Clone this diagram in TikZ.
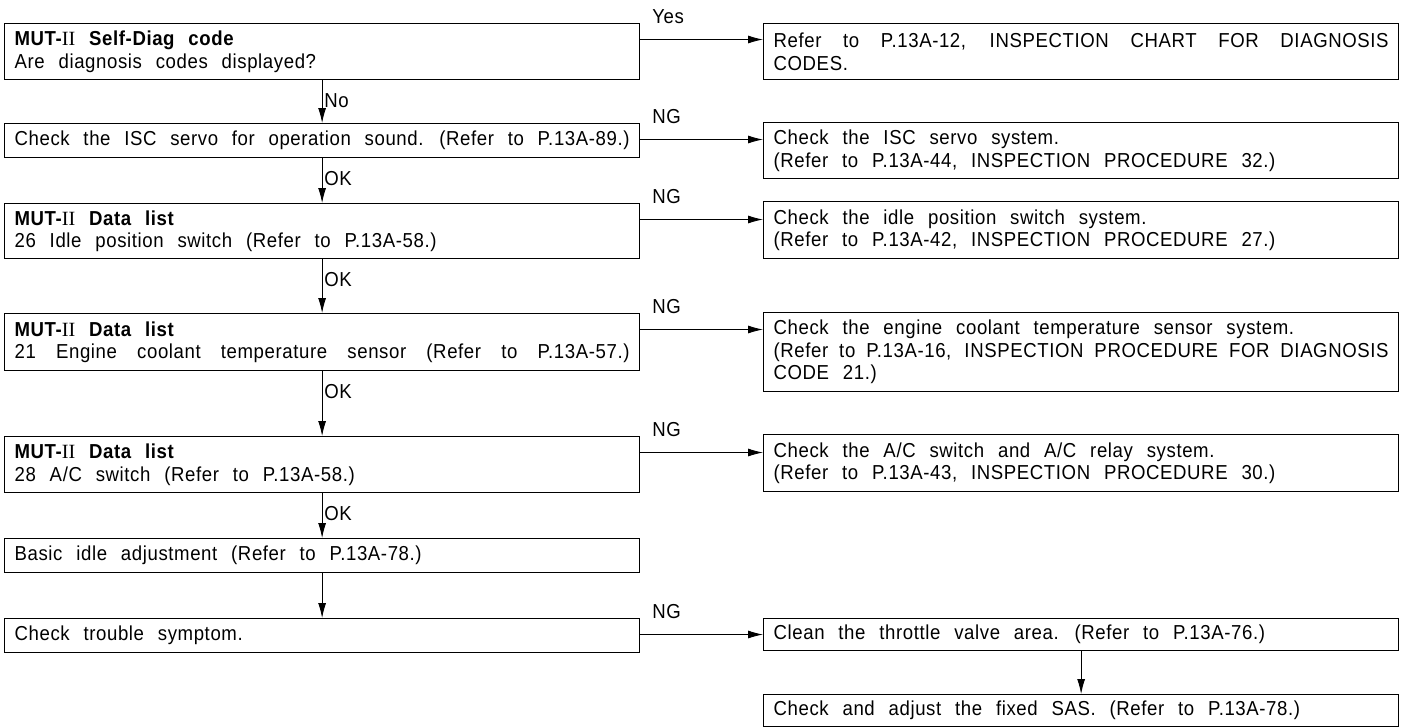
\documentclass[tikz,border=0pt]{standalone}
\usepackage{fontspec}
\setmainfont[FakeStretch=0.92, LetterSpace=3, WordSpace=2.4]{Liberation Sans}
\newfontfamily\romfont{Liberation Serif}
\usetikzlibrary{calc}
\usetikzlibrary{arrows.meta}

\newcommand{\mutdata}{\textbf{MUT-}{\romfont II} \textbf{Data list}}
\newcommand{\tightline}[1]{{\spaceskip=0.12em plus 0.3em\relax #1}}
\newcommand{\chartfont}{\fontsize{11.5}{12.8}\selectfont\lineskiplimit=-10pt}

\tikzset{
    box/.style={draw, line width=0.7pt, anchor=north west, inner xsep=0.2cm, inner ysep=0.1cm,
        text width=12.3cm, align=justify, font=\chartfont},
    fullbox/.style={box, execute at begin node={\parfillskip=0pt}},
    flow/.style={-{Latex[length=3mm,width=1.6mm]}, line width=0.5pt},
    lbl/.style={font=\chartfont, inner sep=1pt}
}

\begin{document}
\begin{tikzpicture}
    \useasboundingbox (0,0) rectangle (28.12,-14.54);

    % Left column
    \node[box, minimum height=1.12cm] (diag) at (0.08,-0.46) {\textbf{MUT-}{\romfont II} \textbf{Self-Diag code}\\Are diagnosis codes displayed?};
    \node[fullbox, minimum height=0.68cm] (isc) at (0.08,-2.46) {Check the ISC servo for operation sound. (Refer to P.13A-89.)};
    \node[box, minimum height=1.10cm] (idle) at (0.08,-4.06) {\mutdata\\26 Idle position switch (Refer to P.13A-58.)};
    \node[fullbox, minimum height=1.14cm] (ect) at (0.08,-6.26) {\mutdata\\21 Engine coolant temperature sensor (Refer to P.13A-57.)};
    \node[box, minimum height=1.12cm] (acsw) at (0.08,-8.72) {\mutdata\\28 A/C switch (Refer to P.13A-58.)};
    \node[box, minimum height=0.68cm] (basic) at (0.08,-10.76) {Basic idle adjustment (Refer to P.13A-78.)};
    \node[box, minimum height=0.68cm] (sympt) at (0.08,-12.36) {Check trouble symptom.};

    % Right column
    \node[box, minimum height=1.12cm] (codes) at (15.26,-0.46) {Refer to P.13A-12, INSPECTION CHART FOR DIAGNOSIS\linebreak CODES.};
    \node[box, minimum height=1.12cm] (iscsys) at (15.26,-2.44) {Check the ISC servo system.\\(Refer to P.13A-44, INSPECTION PROCEDURE 32.)};
    \node[box, minimum height=1.14cm] (idlesys) at (15.26,-4.02) {Check the idle position switch system.\\(Refer to P.13A-42, INSPECTION PROCEDURE 27.)};
    \node[box, minimum height=1.58cm] (ectsys) at (15.26,-6.24) {Check the engine coolant temperature sensor system.\\\tightline{(Refer to P.13A-16, INSPECTION PROCEDURE FOR DIAGNOSIS}\linebreak CODE 21.)};
    \node[box, minimum height=1.14cm] (acsys) at (15.26,-8.68) {Check the A/C switch and A/C relay system.\\(Refer to P.13A-43, INSPECTION PROCEDURE 30.)};
    \node[box, minimum height=0.64cm] (throttle) at (15.26,-12.36) {Clean the throttle valve area. (Refer to P.13A-76.)};
    \node[box, minimum height=0.64cm] (sas) at (15.26,-13.88) {Check and adjust the fixed SAS. (Refer to P.13A-78.)};

    % Down the left column
    \draw[flow] (diag.south) -- node[lbl, pos=0, anchor=north west, yshift=-0.22cm]{No} (isc.north);
    \draw[flow] (isc.south) -- node[lbl, pos=0, anchor=north west, yshift=-0.22cm]{OK} (idle.north);
    \draw[flow] (idle.south) -- node[lbl, pos=0, anchor=north west, yshift=-0.22cm]{OK} (ect.north);
    \draw[flow] (ect.south) -- node[lbl, pos=0, anchor=north west, yshift=-0.22cm]{OK} (acsw.north);
    \draw[flow] (acsw.south) -- node[lbl, pos=0, anchor=north west, yshift=-0.22cm]{OK} (basic.north);
    \draw[flow] (basic.south) -- (sympt.north);
    \draw[flow] (throttle.south) -- (sas.north);

    % Across to the right column
    \foreach \from/\to/\txt in {diag/codes/Yes, isc/iscsys/NG, idle/idlesys/NG, ect/ectsys/NG, acsw/acsys/NG, sympt/throttle/NG}
        \draw[flow] ([yshift=-0.33cm]\from.north east) coordinate (t)
            node[lbl, anchor=base west, xshift=0.2cm, yshift=0.32cm]{\txt}
            -- (t -| \to.west);
\end{tikzpicture}
\end{document}
